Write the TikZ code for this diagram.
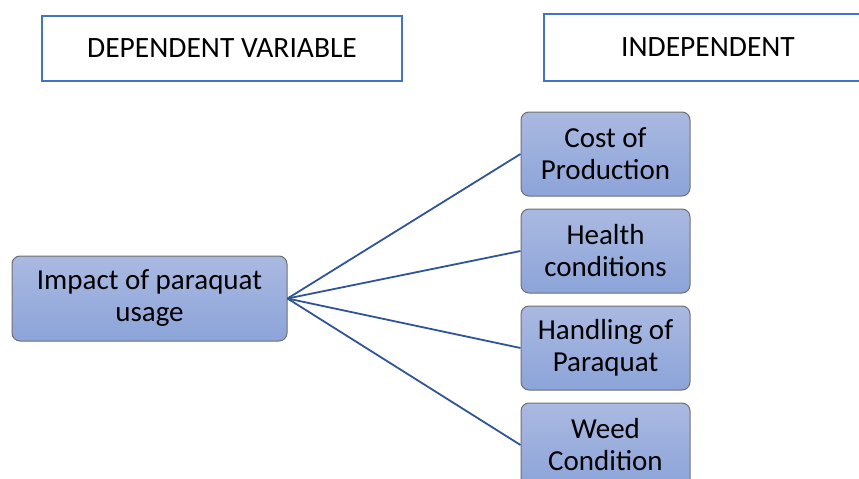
\documentclass[tikz,border=0pt]{standalone}
\usepackage{fontspec}
\setmainfont{Carlito}
\definecolor{headblue}{HTML}{4472C4}
\definecolor{linkblue}{HTML}{2F5597}
\definecolor{boxtop}{HTML}{AAB9E1}
\definecolor{boxbottom}{HTML}{8CA4D9}
\definecolor{boxedge}{HTML}{6F6F6F}
\tikzset{
  headbox/.style={draw=headblue, line width=2pt, inner sep=0pt, align=center,
    font=\fontsize{29.5}{34}\selectfont},
  varbox/.style={draw=boxedge, line width=1pt, rounded corners=8pt,
    top color=boxtop, bottom color=boxbottom, inner sep=0pt, align=center,
    minimum width=169pt, minimum height=84pt, font=\fontsize{29}{32}\selectfont},
  link/.style={draw=linkblue, line width=1.8pt}
}
\begin{document}
\begin{tikzpicture}[x=1pt,y=-1pt]
      \useasboundingbox (0,0) rectangle (859,479);
      \node[headbox, minimum width=360pt, minimum height=65pt] at (222,48.5) (dep) {DEPENDENT VARIABLE};
      \node[headbox, minimum width=328pt, minimum height=67pt] at (708,47.5) (indep) {INDEPENDENT};
      \node[varbox, minimum width=275pt, minimum height=85pt] at (149.5,298.5) (impact) {Impact of paraquat\\usage};
      \node[varbox] at (605.5,154) (cost) {Cost of\\Production};
      \node[varbox] at (605.5,251) (health) {Health\\conditions};
      \node[varbox] at (605.5,348) (handling) {Handling of\\Paraquat};
      \node[varbox] at (605.5,445) (weed) {Weed\\Condition};
      \draw[link] (impact.east) -- (cost.west);
      \draw[link] (impact.east) -- (health.west);
      \draw[link] (impact.east) -- (handling.west);
      \draw[link] (impact.east) -- (weed.west);
    \end{tikzpicture}
\end{document}
